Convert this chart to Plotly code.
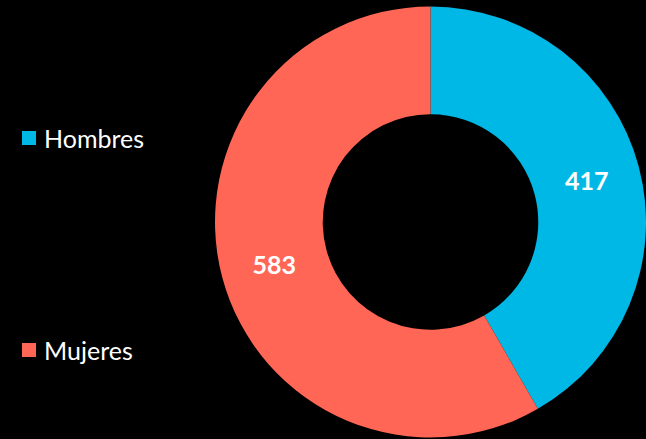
import plotly.graph_objects as go

# data
labels = ["Hombres", "Mujeres"]
values = [417, 583]
colors = ["#00B8E6", "#FF6655"]

# legend y positions (pixels from top) for the hand-drawn legend
legend_y = [138, 350]
W, H = 646, 439

fig = go.Figure()
fig.add_pie(
    labels=labels, values=values, hole=0.5,
    sort=False, direction="clockwise", rotation=0,
    marker=dict(colors=colors, line=dict(width=0)),
    textinfo="value", textposition="inside",
    insidetextfont=dict(family="Lato", size=25, color="white", weight="bold"),
    domain=dict(x=[215 / W, 1], y=[0, 1]),
    showlegend=False,
)

shapes = []
annotations = []
for name, col, yy in zip(labels, colors, legend_y):
    yc = 1 - (yy - 6) / (H - 7)
    shapes.append(dict(
        type="rect", xref="paper", yref="paper",
        x0=22 / W, x1=36 / W, y0=yc - 7 / (H - 7), y1=yc + 7 / (H - 7),
        fillcolor=col, line=dict(width=0),
    ))
    annotations.append(dict(
        x=42 / W, y=yc, xref="paper", yref="paper",
        xanchor="left", yanchor="middle", showarrow=False,
        text=name, font=dict(family="Lato", size=25, color="white"),
    ))

fig.update_layout(
    width=W, height=H,
    paper_bgcolor="black", plot_bgcolor="black",
    margin=dict(t=6, b=1, l=0, r=0),
    shapes=shapes, annotations=annotations,
)
fig.write_html(
    "out.html",
    config={"displayModeBar": False},
    post_script="document.body.style.margin='0px';document.body.style.background='black';",
)
